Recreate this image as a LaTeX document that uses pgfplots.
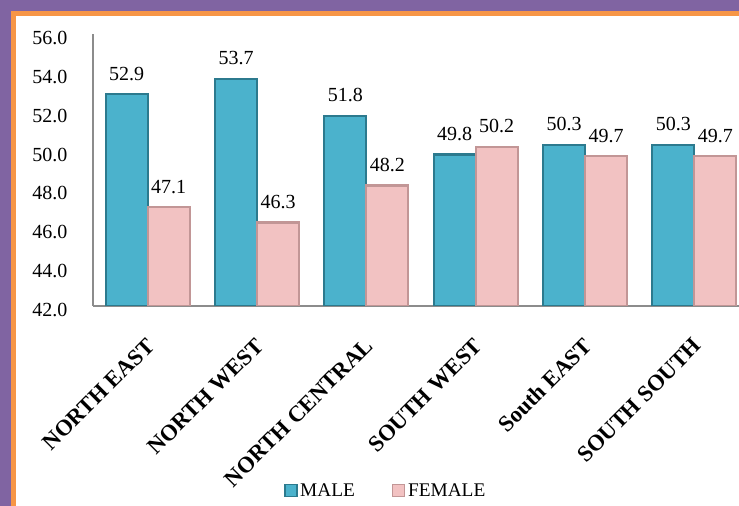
\documentclass[border=0pt]{standalone}
\usepackage{fontspec}
\setmainfont{Liberation Serif}
\usepackage{pgfplots}
\pgfplotsset{compat=1.18}
\definecolor{frameviolet}{HTML}{8064A2}
\definecolor{frameorange}{HTML}{F79646}
\definecolor{malefill}{HTML}{4BB2CC}
\definecolor{maleedge}{HTML}{2C7A8E}
\definecolor{femalefill}{HTML}{F2C2C2}
\definecolor{femaleedge}{HTML}{C29696}
\definecolor{axisgray}{HTML}{8C8C8C}

\begin{document}
\begin{tikzpicture}[x=0.75pt,y=0.75pt]
% frame: violet outer band, orange rule, white panel
\useasboundingbox (0,0) rectangle (739,506);
\fill[frameviolet] (0,0) rectangle (739,506);
\fill[frameorange] (11,0) rectangle (739,495);
\fill[white] (16,0) rectangle (739,490);
\clip (16,0) rectangle (739,490);
\begin{axis}[
  at={(69.75pt,150pt)}, anchor=south west,
  scale only axis, width=492pt, height=204pt,
  ybar=0pt, bar width=31.5pt,
  xmin=-0.5, xmax=5.5, ymin=42, ymax=56,
  ytick={42,44,...,56},
  xtick=data,
  xticklabels={NORTH EAST,NORTH WEST,NORTH CENTRAL,SOUTH WEST,South EAST,SOUTH SOUTH},
  axis x line*=bottom, axis y line*=left,
  axis line style={axisgray, line width=0.9pt, -},
  major tick length=0pt,
  /pgf/number format/assume math mode=true,
  yticklabel={\pgfmathprintnumber[fixed,zerofill,precision=1]{\tick}},
  yticklabel style={font=\fontsize{15}{17}\selectfont, anchor=east, inner sep=0pt, xshift=-19pt, yshift=-3pt},
  % shifts are taken in the rotated frame of the label
  xticklabel style={font=\bfseries\fontsize{17}{19}\selectfont, rotate=45, anchor=east, inner sep=0pt, xshift=-17.5pt, yshift=-20.7pt},
  nodes near coords,
  nodes near coords style={font=\fontsize{15}{17}\selectfont, /pgf/number format/.cd, fixed, zerofill, precision=1, /tikz/.cd, anchor=south, yshift=6pt},
  legend style={at={(0.447,-0.68)}, anchor=center, draw=none, fill=none, legend columns=2,
    font=\fontsize{14.5}{16}\selectfont,
    /tikz/every even column/.append style={column sep=26pt}},
  legend image code/.code={\draw[#1, line width=0.8pt] (0pt,-4.5pt) rectangle (9pt,4.5pt);},
]
\addplot[fill=malefill, draw=maleedge, line width=1.6pt] coordinates {
  (0,52.9) (1,53.7) (2,51.8) (3,49.8) (4,50.3) (5,50.3)};
\addplot[fill=femalefill, draw=femaleedge, line width=1.6pt] coordinates {
  (0,47.1) (1,46.3) (2,48.2) (3,50.2) (4,49.7) (5,49.7)};
\legend{MALE,FEMALE}
\end{axis}
\end{tikzpicture}
\end{document}
